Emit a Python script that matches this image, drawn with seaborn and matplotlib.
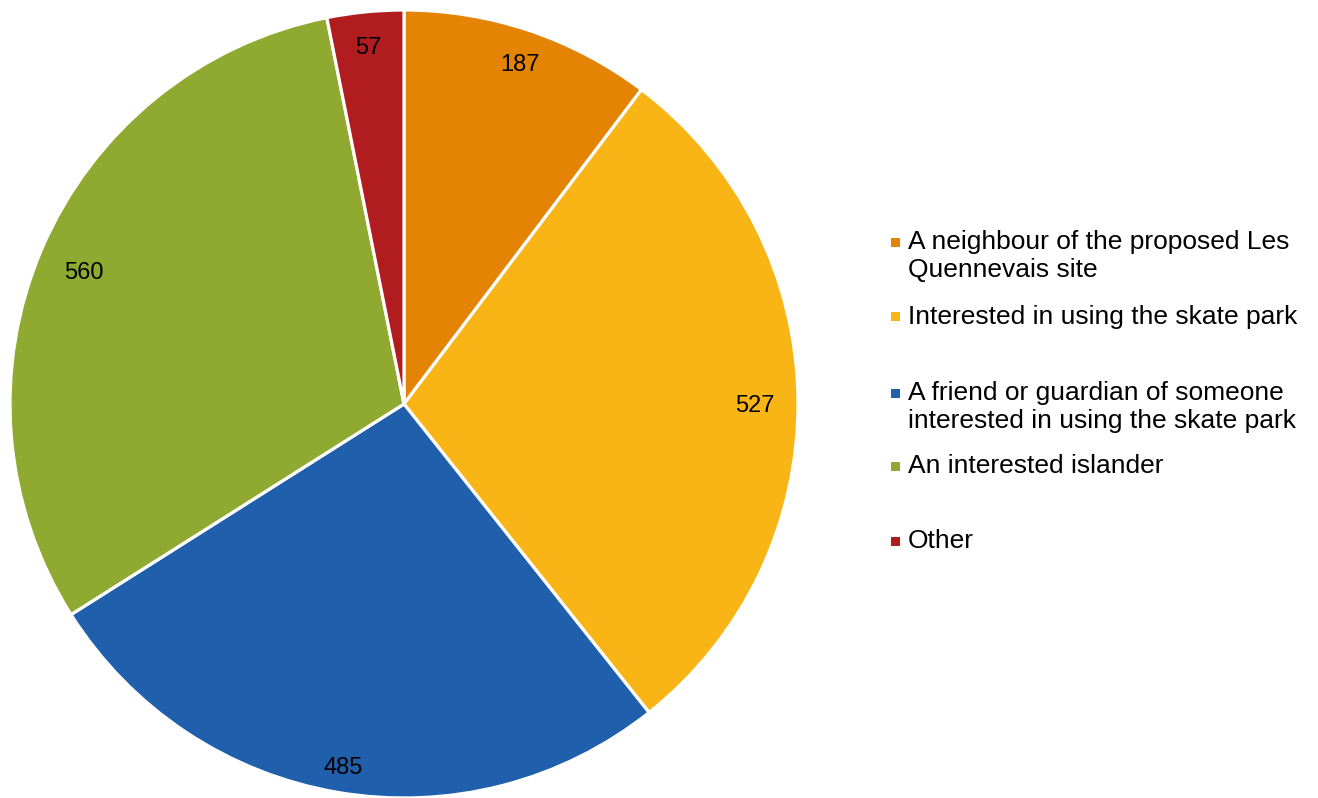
import matplotlib
matplotlib.use("Agg")
import matplotlib.pyplot as plt
import seaborn as sns
import numpy as np
from matplotlib.patches import Rectangle

categories = [
    "A neighbour of the proposed Les\nQuennevais site",
    "Interested in using the skate park",
    "A friend or guardian of someone\ninterested in using the skate park",
    "An interested islander",
    "Other",
]
values = [187, 527, 485, 560, 57]
colors = ["#E48304", "#F9B515", "#1F5FAB", "#8FA931", "#B11C1F"]
# legend entry vertical centres (pixels from top)
legend_y = [256, 317, 407, 466, 541]
# radial placement of the value labels (fraction of radius)
label_dist = [0.925, 0.89, 0.92, 0.885, 0.925]

sns.set_theme(style="white")
plt.rcParams["font.family"] = ["Liberation Sans", "DejaVu Sans"]
palette = sns.color_palette(colors)

W, H = 1318, 798
fig = plt.figure(figsize=(W / 100, H / 100), dpi=100)
ax = fig.add_axes([10 / W, 0 / H, 788 / W, 788 / H])
wedges, _ = ax.pie(
    values,
    colors=palette,
    startangle=90,
    counterclock=False,
    radius=1,
    wedgeprops=dict(edgecolor="white", linewidth=2.3),
)
for w, v, d in zip(wedges, values, label_dist):
    ang = np.deg2rad((w.theta1 + w.theta2) / 2)
    ax.text(d * np.cos(ang), d * np.sin(ang) - 0.016, f"{v}", ha="center",
            va="center", fontsize=17, color="black")
ax.set_xlim(-1, 1)
ax.set_ylim(-1, 1)
ax.set_aspect("equal")
ax.axis("off")

for lab, col, yc in zip(categories, palette, legend_y):
    nlines = lab.count("\n") + 1
    first_y = yc - (nlines - 1) * 28 / 2
    fig.patches.append(
        Rectangle((891 / W, 1 - (first_y + 4.5) / H), 9 / W, 9 / H,
                  transform=fig.transFigure, facecolor=col, edgecolor="none")
    )
    fig.text(908 / W, 1 - yc / H, lab, fontsize=19, va="center", ha="left",
             linespacing=1.25, color="black")

fig.savefig("out.png", dpi=100)
